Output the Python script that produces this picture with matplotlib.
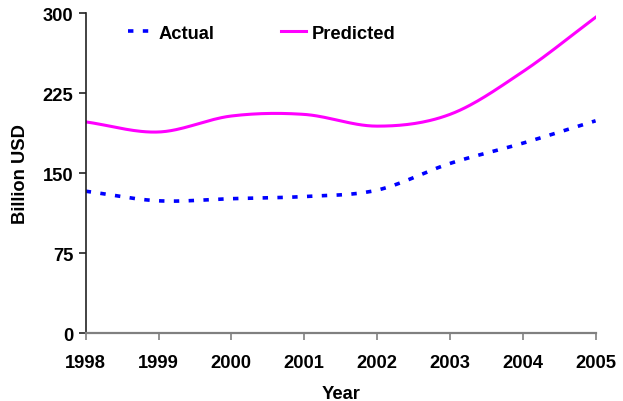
import numpy as np
import matplotlib
matplotlib.use("Agg")
import matplotlib.pyplot as plt

# datos
years = [1998, 1999, 2000, 2001, 2002, 2003, 2004, 2005]
actual = [133, 124, 126, 128, 134, 159, 178, 199]
predicted = [198, 188.5, 203.5, 205, 194, 205, 245, 296]


def suavizar(x, y, n=30):
    # curva suave tipo Catmull-Rom (como las lineas suavizadas de Excel)
    x = np.asarray(x, float)
    y = np.asarray(y, float)
    px = np.concatenate([[2 * x[0] - x[1]], x, [2 * x[-1] - x[-2]]])
    py = np.concatenate([[2 * y[0] - y[1]], y, [2 * y[-1] - y[-2]]])
    xs, ys = [], []
    t = np.linspace(0, 1, n)
    for i in range(1, len(px) - 2):
        for p, out in ((px, xs), (py, ys)):
            p0, p1, p2, p3 = p[i - 1], p[i], p[i + 1], p[i + 2]
            out.extend(0.5 * ((2 * p1) + (-p0 + p2) * t
                              + (2 * p0 - 5 * p1 + 4 * p2 - p3) * t ** 2
                              + (-p0 + 3 * p1 - 3 * p2 + p3) * t ** 3))
    return np.array(xs), np.array(ys)


plt.rcParams['font.family'] = ['Liberation Sans', 'DejaVu Sans']
plt.rcParams['font.weight'] = 'bold'
plt.rcParams['font.size'] = 13.2

fig = plt.figure(figsize=(6.23, 4.02), dpi=100)
ax = fig.add_axes([0.1375, 0.169, 0.8185, 0.796])

xa, ya = suavizar(years, actual)
xp, yp = suavizar(years, predicted)
ax.plot(xa, ya, color='#0000ff', lw=2.6, dashes=(1.5, 2.6), label='Actual')
ax.plot(xp, yp, color='#ff00ff', lw=2.2, label='Predicted')

ax.set_xlim(1998, 2005)
ax.set_ylim(0, 300)
ax.set_xticks(years)
ax.set_yticks([0, 75, 150, 225, 300])

for s in ['top', 'right']:
    ax.spines[s].set_visible(False)
ax.spines['left'].set_color('#222222')
ax.spines['left'].set_linewidth(1.2)
ax.spines['bottom'].set_color('#808080')
ax.spines['bottom'].set_linewidth(1.6)
ax.tick_params(axis='y', length=5, width=1.2, color='#222222', pad=4)
ax.tick_params(axis='x', length=5, width=1.2, color='#808080', pad=10)

ax.set_xlabel('Year', fontweight='bold', labelpad=10)
ax.set_ylabel('Billion USD', fontweight='bold', labelpad=10)

ax.legend(loc='upper left', bbox_to_anchor=(0.05, 1.015), ncol=2, frameon=False,
          handlelength=1.4, handletextpad=0.3, columnspacing=3.6)

fig.savefig('out.png', dpi=100)
